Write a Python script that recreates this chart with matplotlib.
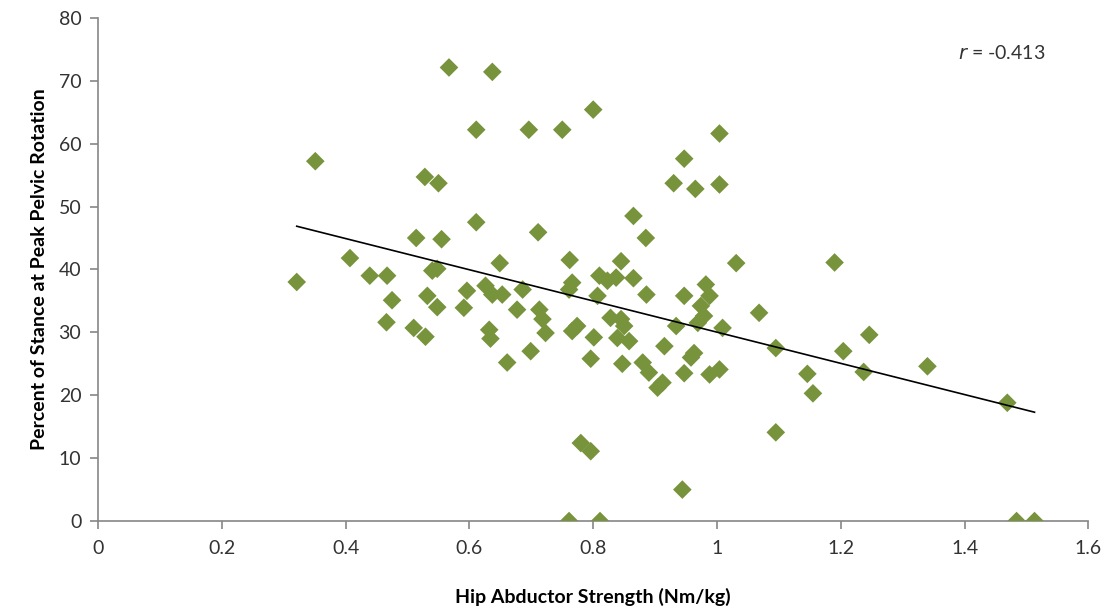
import numpy as np
import matplotlib
matplotlib.use("Agg")
import matplotlib.pyplot as plt

plt.rcParams['font.family'] = ['Lato', 'DejaVu Sans']

# hip abductor strength (Nm/kg) and percent of stance at peak pelvic rotation
strength = [
    0.567, 0.637, 0.800, 0.611, 0.696, 0.750, 1.004, 0.351, 0.947, 0.528,
    0.550, 0.930, 0.965, 1.004, 0.865, 0.611, 0.711, 0.514, 0.555, 0.885,
    0.407, 0.649, 0.762, 0.845, 1.031, 1.190, 0.321, 0.439, 0.467, 0.540,
    0.548, 0.766, 0.761, 0.810, 0.823, 0.837, 0.865, 0.596, 0.626, 0.637,
    0.653, 0.686, 0.807, 0.886, 0.947, 0.982, 0.988, 0.974, 0.979, 0.969,
    0.475, 0.532, 0.548, 0.591, 0.677, 0.713, 0.718, 0.723, 1.068, 0.466,
    0.510, 0.529, 0.632, 0.634, 0.774, 0.766, 0.828, 0.845, 0.850, 0.934,
    1.009, 0.801, 0.839, 0.858, 0.915, 1.095, 0.699, 0.661, 0.796, 0.847,
    0.880, 0.890, 0.904, 0.912, 0.963, 0.958, 0.947, 0.988, 1.004, 1.246,
    1.204, 1.237, 1.340, 1.146, 1.155, 1.469, 1.095, 0.780, 0.796, 0.944,
    0.761, 0.811, 1.484, 1.513,
]
stance = [
    72.1, 71.4, 65.4, 62.2, 62.2, 62.2, 61.6, 57.2, 57.6, 54.7,
    53.7, 53.7, 52.8, 53.5, 48.5, 47.5, 45.9, 45.0, 44.8, 45.0,
    41.8, 41.0, 41.5, 41.3, 41.0, 41.1, 38.0, 39.0, 39.0, 39.8,
    40.1, 37.9, 36.8, 39.0, 38.2, 38.7, 38.6, 36.6, 37.4, 36.0,
    36.0, 36.8, 35.8, 36.0, 35.8, 37.6, 35.8, 34.2, 32.6, 31.5,
    35.1, 35.8, 34.0, 33.9, 33.6, 33.6, 32.1, 29.9, 33.1, 31.6,
    30.7, 29.3, 30.4, 29.0, 31.0, 30.2, 32.3, 32.1, 31.0, 31.0,
    30.7, 29.2, 29.1, 28.6, 27.8, 27.5, 27.0, 25.2, 25.8, 25.0,
    25.2, 23.6, 21.2, 22.0, 26.7, 26.0, 23.5, 23.3, 24.1, 29.6,
    27.0, 23.7, 24.6, 23.4, 20.3, 18.8, 14.1, 12.4, 11.1, 5.0,
    0.0, 0.0, 0.0, 0.0,
]
r_value = -0.413

x_ticks = [0, 0.2, 0.4, 0.6, 0.8, 1.0, 1.2, 1.4, 1.6]
x_labels = ['0', '0.2', '0.4', '0.6', '0.8', '1', '1.2', '1.4', '1.6']
y_ticks = [0, 10, 20, 30, 40, 50, 60, 70, 80]

x = np.array(strength)
y = np.array(stance)

fig = plt.figure(figsize=(11.09, 6.13), dpi=100)
ax = fig.add_axes([0.0884, 0.150, 0.893, 0.821])

ax.scatter(x, y, marker='D', s=90, color='#77933C', edgecolors='none', zorder=3)

# linear trend over the range of the data
slope, intercept = np.polyfit(x, y, 1)
xs = np.array([x.min(), x.max()])
ax.plot(xs, slope * xs + intercept, color='black', lw=1.2, zorder=4)

ax.set_xlim(0, 1.6)
ax.set_ylim(0, 80)
ax.set_xticks(x_ticks)
ax.set_xticklabels(x_labels)
ax.set_yticks(y_ticks)

for side in ['top', 'right']:
    ax.spines[side].set_visible(False)
for side in ['left', 'bottom']:
    ax.spines[side].set_color('#868686')
    ax.spines[side].set_linewidth(1.2)
ax.tick_params(axis='both', colors='#868686', labelcolor='#333333',
               labelsize=14, length=6, width=1.2, direction='out')
ax.tick_params(axis='x', pad=8)
ax.tick_params(axis='y', pad=6)

ax.set_xlabel('Hip Abductor Strength (Nm/kg)', fontsize=14, fontweight='bold',
              labelpad=22)
ax.set_ylabel('Percent of Stance at Peak Pelvic Rotation', fontsize=14,
              fontweight='bold', labelpad=8)

ax.text(0.868, 0.93, '$\\it{r}$ = %.3f' % r_value, transform=ax.transAxes,
        fontsize=14, color='#333333', ha='left', va='center')

fig.savefig('out.png', dpi=100)
